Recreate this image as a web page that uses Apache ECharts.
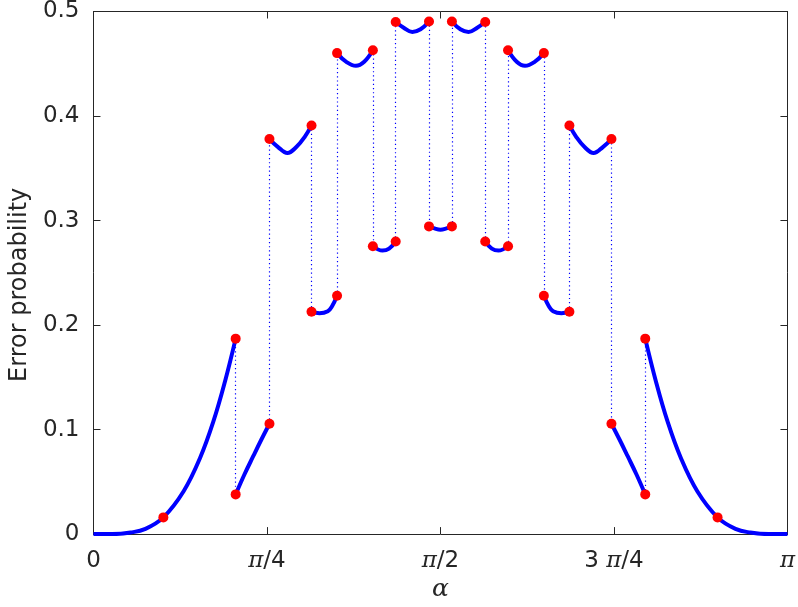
<!DOCTYPE html>
<html>
<head>
<meta charset="utf-8">
<script src="https://cdn.jsdelivr.net/npm/echarts@6/dist/echarts.min.js"></script>
<style>
html, body { margin: 0; padding: 0; background: #fff; }
#main { width: 798px; height: 607px; }
</style>
</head>
<body>
<div id="main"></div>
<script>
// x values are alpha / pi, y values are the error probability
var xTicks = [0, 0.25, 0.5, 0.75, 1];
var xTickLabels = ['0', '{pi|π}/4', '{pi|π}/2', '3 {pi|π}/4', '{pi|π}'];
var yTicks = [0, 0.1, 0.2, 0.3, 0.4, 0.5];

var segA  = [[0, 0], [0.027, 0], [0.0534, 0.0015], [0.0749, 0.005], [0.1007, 0.016], [0.1299, 0.041], [0.1537, 0.073], [0.1729, 0.108], [0.1895, 0.146], [0.2049, 0.187]];
var segB  = [[0.2049, 0.038], [0.2175, 0.057], [0.2302, 0.0745], [0.242, 0.0905], [0.2536, 0.1056]];
var segC  = [[0.2536, 0.378], [0.266, 0.3703], [0.2794, 0.3646], [0.2923, 0.3703], [0.3042, 0.3798], [0.3142, 0.391]];
var segD  = [[0.3142, 0.2128], [0.3256, 0.2113], [0.3377, 0.2132], [0.3438, 0.218], [0.351, 0.228]];
var segE  = [[0.351, 0.4602], [0.3639, 0.452], [0.3782, 0.4481], [0.3901, 0.452], [0.4026, 0.463]];
var segF  = [[0.4026, 0.2754], [0.4165, 0.2713], [0.426, 0.2732], [0.4355, 0.2799]];
var segG  = [[0.4355, 0.4899], [0.447, 0.4845], [0.4595, 0.4805], [0.4713, 0.483], [0.4835, 0.4905]];
var segH  = [[0.4835, 0.2944], [0.4914, 0.2925], [0.5, 0.2913], [0.5086, 0.2925], [0.5165, 0.2944]];
var segG2 = [[0.5165, 0.4905], [0.5287, 0.483], [0.5405, 0.4805], [0.553, 0.4845], [0.5645, 0.4899]];
var segF2 = [[0.5645, 0.2799], [0.574, 0.2732], [0.5835, 0.2713], [0.5974, 0.2754]];
var segE2 = [[0.5974, 0.463], [0.6099, 0.452], [0.6218, 0.4481], [0.6361, 0.452], [0.649, 0.4602]];
var segD2 = [[0.649, 0.228], [0.6562, 0.218], [0.6623, 0.2132], [0.6744, 0.2113], [0.6858, 0.2128]];
var segC2 = [[0.6858, 0.391], [0.6958, 0.3798], [0.7077, 0.3703], [0.7206, 0.3646], [0.734, 0.3703], [0.7464, 0.378]];
var segB2 = [[0.7464, 0.1056], [0.758, 0.0905], [0.7698, 0.0745], [0.7825, 0.057], [0.7951, 0.038]];
var segA2 = [[0.7951, 0.187], [0.8105, 0.146], [0.8271, 0.108], [0.8463, 0.073], [0.8701, 0.041], [0.8993, 0.016], [0.9251, 0.005], [0.9466, 0.0015], [0.973, 0], [1, 0]];

// extra markers sitting on the outer branches
var extraDots = [[0.1007, 0.016], [0.8993, 0.016]];

var segments = [segA, segB, segC, segD, segE, segF, segG, segH, segG2, segF2, segE2, segD2, segC2, segB2, segA2];

var ink = '#262626';
var series = [];

// blue curve pieces
segments.forEach(function (seg) {
    series.push({
        type: 'line',
        data: seg,
        smooth: 0.4,
        showSymbol: false,
        symbol: 'none',
        lineStyle: { color: '#0000ff', width: 4 },
        z: 3,
        silent: true
    });
});

// dotted jumps between pieces + red dots at the ends
var jumps = [];
var dots = extraDots.slice();
for (var i = 0; i < segments.length - 1; i++) {
    var a = segments[i][segments[i].length - 1];
    var b = segments[i + 1][0];
    jumps.push({ coords: [a, b] });
    dots.push(a, b);
}
series.push({
    type: 'lines',
    coordinateSystem: 'cartesian2d',
    data: jumps,
    lineStyle: { color: '#0000ff', width: 1.2, type: [1.2, 3], opacity: 1 },
    z: 2,
    silent: true
});
series.push({
    type: 'scatter',
    data: dots,
    symbolSize: 10,
    itemStyle: { color: '#ff0000', opacity: 1 },
    z: 5,
    silent: true
});

function xAxisDef(pos, labels) {
    return {
        type: 'value', position: pos, min: 0, max: 1, interval: 0.25,
        axisLine: { show: true, onZero: false, lineStyle: { color: ink, width: 1 } },
        axisTick: { show: true, inside: true, length: 7, lineStyle: { color: ink } },
        splitLine: { show: false },
        axisLabel: {
            show: labels, margin: 15, color: ink, fontSize: 23, fontFamily: 'DejaVu Sans',
            formatter: function (v) { return xTickLabels[xTicks.indexOf(v)]; },
            rich: { pi: { fontFamily: 'DejaVu Serif', fontStyle: 'italic', fontSize: 23, color: ink } }
        },
        name: labels ? 'α' : '', nameLocation: 'middle', nameGap: 38,
        nameTextStyle: { fontFamily: 'DejaVu Serif', fontStyle: 'italic', fontSize: 25, color: ink }
    };
}
function yAxisDef(pos, labels) {
    return {
        type: 'value', position: pos, min: 0, max: 0.5, interval: 0.1,
        axisLine: { show: true, onZero: false, lineStyle: { color: ink, width: 1 } },
        axisTick: { show: true, inside: true, length: 7, lineStyle: { color: ink } },
        splitLine: { show: false },
        axisLabel: {
            show: labels, margin: 14, color: ink, fontSize: 23, fontFamily: 'DejaVu Sans',
            formatter: function (v) {
                var k = yTicks.indexOf(Math.round(v * 10) / 10);
                return k === 0 ? '0' : yTicks[k].toFixed(1);
            }
        },
        name: labels ? 'Error probability' : '', nameLocation: 'middle', nameGap: 58,
        nameTextStyle: { fontFamily: 'DejaVu Sans', fontSize: 24, color: ink, padding: [0, 24, 0, 0] }
    };
}

var chart = echarts.init(document.getElementById('main'));
chart.setOption({
    animation: false,
    backgroundColor: '#ffffff',
    grid: { left: 91, right: 9, top: 10, bottom: 70, containLabel: false },
    xAxis: [xAxisDef('bottom', true), xAxisDef('top', false)],
    yAxis: [yAxisDef('left', true), yAxisDef('right', false)],
    series: series
});
</script>
</body>
</html>
